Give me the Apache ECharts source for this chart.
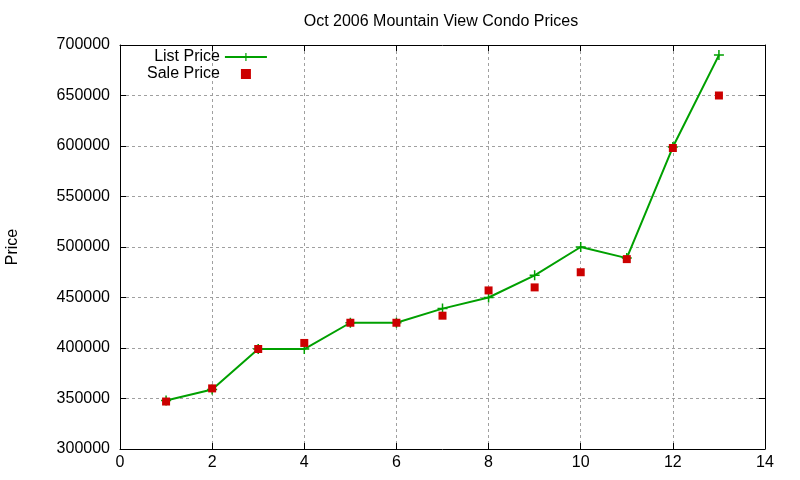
<!DOCTYPE html>
<html>
<head>
<meta charset="utf-8">
<script src="https://cdn.jsdelivr.net/npm/echarts@6/dist/echarts.min.js"></script>
<style>html,body{margin:0;padding:0;background:#fff;}#c{width:800px;height:480px;}</style>
</head>
<body>
<div id="c"></div>
<script>
var xValues = [1, 2, 3, 4, 5, 6, 7, 8, 9, 10, 11, 12, 13];
var listPrice = [348000, 359000, 399000, 399000, 425000, 425000, 439000, 450000, 472000, 500000, 489000, 599000, 690000];
var salePrice = [347000, 360000, 399000, 405000, 425000, 425000, 432000, 457000, 460000, 475000, 488000, 598000, 650000];
var titleText = 'Oct 2006 Mountain View Condo Prices';
var yName = 'Price';

var font = 'Liberation Sans, Arial, sans-serif';
var plusPath = 'path://M4.25,0H5.75V4.25H10V5.75H5.75V10H4.25V5.75H0V4.25H4.25Z';
var squarePath = 'path://M0,0H10V10H0Z';
function pairs(ys){ return xValues.map(function(x,i){ return [x, ys[i]]; }); }

var chart = echarts.init(document.getElementById('c'), null, {renderer:'canvas'});
var axisCommon = {
  axisLine:{show:true, onZero:false, lineStyle:{color:'#000', width:1}},
  axisTick:{show:true, inside:true, length:6, lineStyle:{color:'#000', width:1}},
  splitLine:{show:false}
};
var gridLine = {show:true, lineStyle:{color:'#a0a0a0', type:[3,3], width:1}};
chart.setOption({
  animation:false,
  backgroundColor:'#fff',
  title:{text:titleText, left:436, top:9, textAlign:'center',
    textStyle:{fontFamily:font, fontSize:16, fontWeight:'normal', color:'#000'}},
  legend:{
    orient:'vertical', left:142, top:44, align:'right', itemGap:1,
    itemWidth:42, itemHeight:10, symbolKeepAspect:true,
    textStyle:{fontFamily:font, fontSize:16, color:'#000'},
    data:[{name:'List Price'},{name:'Sale Price', icon:squarePath, itemStyle:{color:'#cc0000', opacity:1}}]
  },
  grid:{left:120, right:35, top:45, bottom:31, show:false, outerBoundsMode:'none', containLabel:false},
  xAxis:[
    Object.assign({}, axisCommon, {type:'value', min:0, max:14, interval:2, position:'bottom',
      axisLabel:{fontFamily:font, fontSize:16, color:'#000', margin:6},
      splitLine:gridLine}),
    Object.assign({}, axisCommon, {type:'value', min:0, max:14, interval:2, position:'top',
      axisLabel:{show:false}})
  ],
  yAxis:[
    Object.assign({}, axisCommon, {type:'value', min:300000, max:700000, interval:50000, position:'left',
      name:yName, nameLocation:'middle', nameGap:99,
      nameTextStyle:{fontFamily:font, fontSize:16, color:'#000'},
      axisLabel:{fontFamily:font, fontSize:16, color:'#000', margin:10, formatter:function(v){return String(v);}},
      splitLine:gridLine}),
    Object.assign({}, axisCommon, {type:'value', min:300000, max:700000, interval:50000, position:'right',
      axisLabel:{show:false}})
  ],
  series:[
    {name:'List Price', type:'line', data:pairs(listPrice), symbol:plusPath, symbolSize:10,
      lineStyle:{color:'#00a000', width:2}, itemStyle:{color:'#00a000'}, z:2},
    {name:'Sale Price', type:'scatter', data:pairs(salePrice), symbol:'rect', symbolSize:8,
      itemStyle:{color:'#cc0000', opacity:1}, z:3}
  ]
});
</script>
</body>
</html>
